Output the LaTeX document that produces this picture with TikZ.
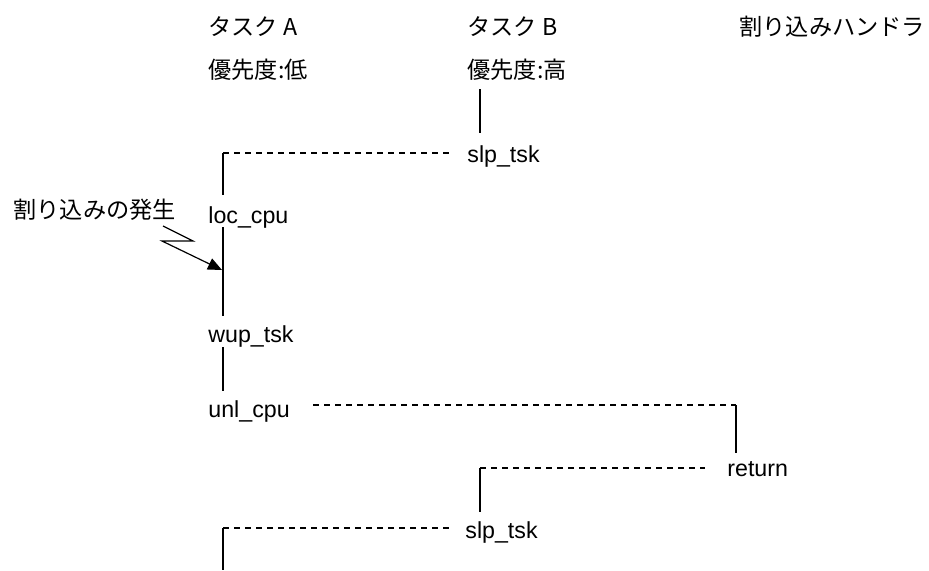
\documentclass[tikz,border=0pt]{standalone}
\usepackage{fontspec}
\setmainfont{Liberation Sans}
\newfontfamily\jp{Noto Sans CJK JP}
\usepackage{tikz}
\usetikzlibrary{arrows.meta}

\begin{document}
\begin{tikzpicture}[x=0.5pt,y=-0.5pt,
  lbl/.style={anchor=base west,inner sep=0pt,font=\fontsize{11.6}{14}\selectfont},
  life/.style={line width=1pt},
  sw/.style={line width=0.9pt,dash pattern=on 3pt off 2.5pt}]
\useasboundingbox (0,0) rectangle (929,570);
% headings
\node[lbl] (tA) at (208,35) {\jp タスク A};
\node[lbl] (tB) at (467,35) {\jp タスク B};
\node[lbl] (tH) at (739,35) {\jp 割り込みハンドラ};
\node[lbl] (pA) at (208,78) {\jp 優先度:低};
\node[lbl] (pB) at (467,78) {\jp 優先度:高};
% calls
\node[lbl] (slpA) at (467,162) {slp\_tsk};
\node[lbl] (loc) at (208,223) {loc\_cpu};
\node[lbl] (wup) at (208,342) {wup\_tsk};
\node[lbl] (unl) at (208,417) {unl\_cpu};
\node[lbl] (ret) at (727,476) {return};
\node[lbl] (slpB) at (465,538) {slp\_tsk};
\node[lbl] (irq) at (13,218) {\jp 割り込みの発生};
% line ends
\coordinate (b0) at (480,89);   \coordinate (b1) at (480,133);
\coordinate (a0) at (223,153);  \coordinate (a1) at (223,195);
\coordinate (a2) at (223,227);  \coordinate (a3) at (223,316);
\coordinate (a4) at (223,347);  \coordinate (a5) at (223,391);
\coordinate (h0) at (736,405);  \coordinate (h1) at (736,453);
\coordinate (c0) at (480,468);  \coordinate (c1) at (480,512);
\coordinate (d0) at (223,528);  \coordinate (d1) at (223,570);
\coordinate (hit) at (222,270);
% life lines
\draw[life] (b0) -- (b1);
\draw[life] (a0) -- (a1);
\draw[life] (a2) -- (a3);
\draw[life] (a4) -- (a5);
\draw[life] (h0) -- (h1);
\draw[life] (c0) -- (c1);
\draw[life] (d0) -- (d1);
% switches
\draw[sw] (a0) -- ([xshift=-9pt]a0 -| slpA.west);
\draw[sw] ([xshift=11.5pt]h0 -| unl.east) -- (h0);
\draw[sw] (c0) -- ([xshift=-11pt]c0 -| ret.west);
\draw[sw] (d0) -- ([xshift=-7.5pt]d0 -| slpB.west);
% interrupt
\draw[line width=0.6pt,-{Triangle[length=7pt,width=6pt]}] (163,226) -- (193,241) -- (162,241) -- (hit);
\end{tikzpicture}
\end{document}
